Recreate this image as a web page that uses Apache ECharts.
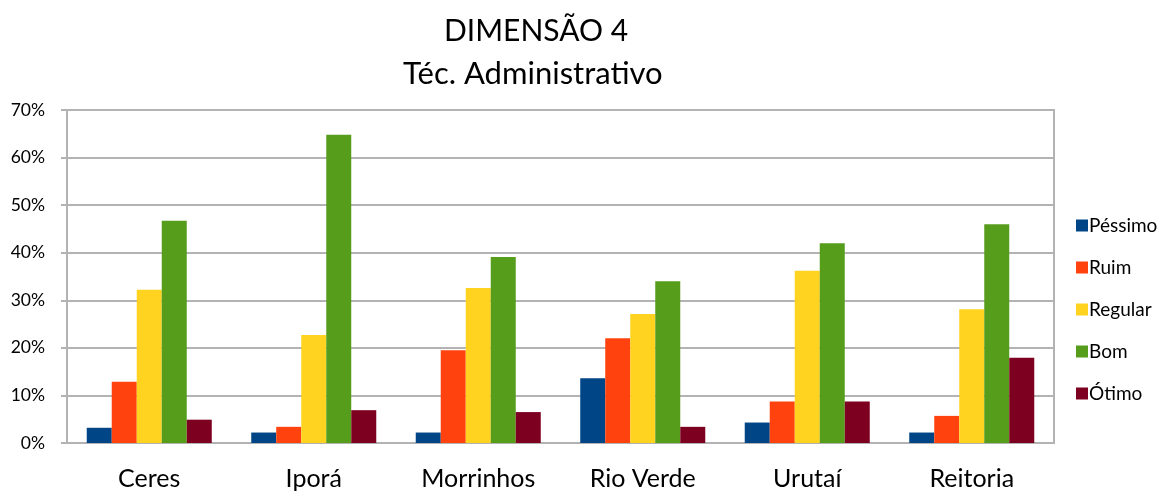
<!DOCTYPE html>
<html>
<head>
<meta charset="utf-8">
<script src="https://cdn.jsdelivr.net/npm/echarts@6/dist/echarts.min.js"></script>
<style>
  html, body { margin: 0; padding: 0; background: #fff; }
  #main { width: 1160px; height: 491px; }
</style>
</head>
<body>
<div id="main"></div>
<script>
// categorias e valores (%)
var campi = ['Ceres', 'Iporá', 'Morrinhos', 'Rio Verde', 'Urutaí', 'Reitoria']
var pessimo = [3.2, 2.2, 2.2, 13.6, 4.3, 2.2]
var ruim = [12.9, 3.4, 19.5, 22.0, 8.7, 5.7]
var regular = [32.2, 22.7, 32.6, 27.1, 36.2, 28.1]
var bom = [46.7, 64.8, 39.1, 34.0, 42.0, 46.0]
var otimo = [4.9, 6.9, 6.5, 3.4, 8.7, 17.9]

var fonte = 'Lato, "Open Sans", sans-serif'
var cinza = '#b3b3b3'

var myChart = echarts.init(document.getElementById('main'))

function serie (nome, dados, cor) {
  return {
    name: nome,
    type: 'bar',
    data: dados,
    barGap: '0%',
    barCategoryGap: '24%',
    itemStyle: { color: cor },
    animation: false
  }
}

var option = {
  backgroundColor: '#fff',
  textStyle: { fontFamily: fonte },
  title: [
    {
      text: 'DIMENSÃO 4',
      left: 439,
      top: 11,
      textStyle: { fontFamily: fonte, fontSize: 30, fontWeight: 'normal', color: '#000' }
    },
    {
      text: 'Téc. Administrativo',
      left: 398,
      top: 53,
      textStyle: { fontFamily: fonte, fontSize: 31, fontWeight: 'normal', color: '#000' }
    }
  ],
  legend: {
    orient: 'vertical',
    left: 1071,
    top: 211,
    itemWidth: 12,
    itemHeight: 12,
    itemGap: 23,
    icon: 'rect',
    textStyle: { fontFamily: fonte, fontSize: 19, color: '#000', padding: [0, 0, 0, -4] }
  },
  grid: {
    left: 67,
    right: 106,
    top: 110,
    bottom: 44,
    show: true,
    borderColor: cinza,
    borderWidth: 2,
    containLabel: false
  },
  xAxis: {
    type: 'category',
    data: campi,
    axisLine: { lineStyle: { color: cinza, width: 2 } },
    axisTick: { show: false },
    axisLabel: { fontFamily: fonte, fontSize: 25, color: '#000', margin: 23 }
  },
  yAxis: {
    type: 'value',
    min: 0,
    max: 70,
    interval: 10,
    axisLine: { show: true, lineStyle: { color: cinza, width: 2 } },
    axisTick: { show: true, length: 6, inside: false, lineStyle: { color: cinza, width: 2 } },
    splitLine: { lineStyle: { color: cinza, width: 2 } },
    axisLabel: {
      fontFamily: fonte,
      fontSize: 17.5,
      color: '#000',
      margin: 22,
      formatter: '{value}%'
    }
  },
  series: [
    serie('Péssimo', pessimo, '#004586'),
    serie('Ruim', ruim, '#ff420e'),
    serie('Regular', regular, '#ffd320'),
    serie('Bom', bom, '#579d1c'),
    serie('Ótimo', otimo, '#7e0021')
  ]
}

myChart.setOption(option)
</script>
</body>
</html>
